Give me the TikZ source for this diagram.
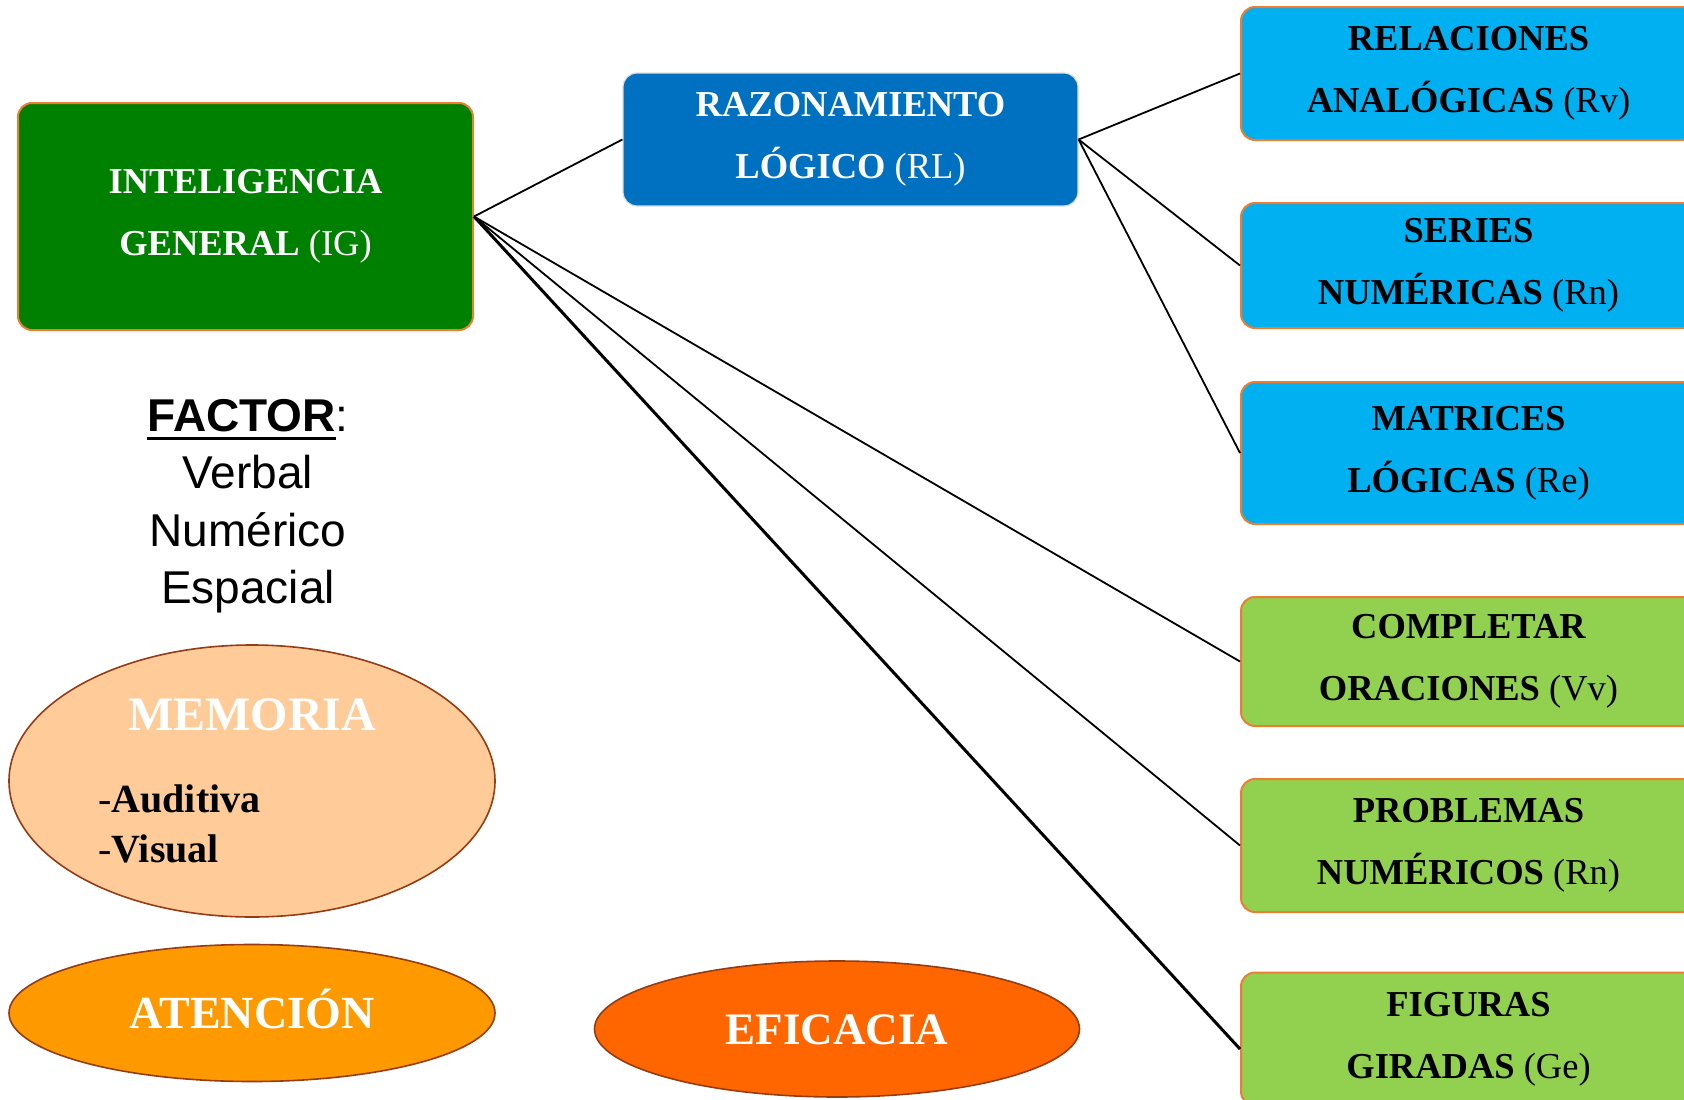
\documentclass[tikz,border=0pt]{standalone}
\usepackage{fontspec}
\setmainfont{Liberation Serif}
\newfontfamily\arialf{Liberation Sans}
\usetikzlibrary{shapes.geometric,calc}
\definecolor{igreen}{HTML}{008000}
\definecolor{rlblue}{HTML}{0070C0}
\definecolor{lblue}{HTML}{00B0F0}
\definecolor{lgreen}{HTML}{92D050}
\definecolor{borange}{HTML}{ED7D31}
\definecolor{ebrown}{HTML}{963C14}
\definecolor{peach}{HTML}{FFCC99}
\definecolor{aorange}{HTML}{FF9900}
\definecolor{eorange}{HTML}{FF6600}
\definecolor{rlborder}{HTML}{DDDDDD}
\newlength\ulw
\newcommand\thickul[1]{\settowidth\ulw{#1}\rlap{\rule[-9pt]{\ulw}{3.5pt}}#1}
\begin{document}
\begin{tikzpicture}[x=1pt,y=-1pt,
  box/.style={rectangle, rounded corners=14pt, minimum width=455pt, inner sep=0pt,
    align=center, line width=2pt, font=\fontsize{36.5}{62}\selectfont\bfseries},
  subbox/.style={box, draw=borange, text=black},
  oval/.style={ellipse, draw=ebrown, line width=1.6pt, inner sep=0pt},
  conn/.style={draw=black, line width=1.8pt}]
\useasboundingbox (0,0) rectangle (1684,1100);
\clip (0,0) rectangle (1684,1100);

\node[box, fill=igreen, draw=borange, text=white, minimum height=227pt] (IG) at (245.5,216.5)
  {INTELIGENCIA\\GENERAL {\mdseries (IG)}};
\node[box, fill=rlblue, draw=rlborder, line width=1.2pt, text=white, minimum height=133pt] (RL) at (850.5,139.5)
  {RAZONAMIENTO\\LÓGICO {\mdseries (RL)}};

\node[subbox, fill=lblue, minimum height=133pt] (RA) at (1468.5,73.5)
  {RELACIONES\\ANALÓGICAS {\mdseries (Rv)}};
\node[subbox, fill=lblue, minimum height=125pt] (SN) at (1468.5,265.5)
  {SERIES\\NUMÉRICAS {\mdseries (Rn)}};
\node[subbox, fill=lblue, minimum height=142pt] (MA) at (1468.5,453)
  {MATRICES\\LÓGICAS {\mdseries (Re)}};
\node[subbox, fill=lgreen, minimum height=129pt] (CO) at (1468.5,661.5)
  {COMPLETAR\\ORACIONES {\mdseries (Vv)}};
\node[subbox, fill=lgreen, minimum height=133pt] (PR) at (1468.5,845.5)
  {PROBLEMAS\\NUMÉRICOS {\mdseries (Rn)}};
\node[subbox, fill=lgreen, minimum height=133pt] (FG) at (1468.5,1039)
  {FIGURAS\\GIRADAS {\mdseries (Ge)}};

\draw[conn] (IG.east) -- (RL.west);
\draw[conn] (RL.east) -- (RA.west);
\draw[conn] (RL.east) -- (SN.west);
\draw[conn] (RL.east) -- (MA.west);
\draw[conn] (IG.east) -- (CO.west);
\draw[conn] (IG.east) -- (PR.west);
\draw[conn, line width=3pt] (IG.east) -- ([yshift=-10pt]FG.west);

\node[font=\arialf\fontsize{46}{57.5}\selectfont, align=center, inner sep=0pt] (FAC) at (248,506)
  {\thickul{\textbf{FACTOR}}:\\Verbal\\Numérico\\Espacial};

\node[oval, fill=peach, minimum width=486pt, minimum height=272pt] (MEM) at (252,781) {};
\node[anchor=base, inner sep=0pt, text=white, font=\fontsize{48}{58}\selectfont\bfseries] (MEMT) at (252,730) {MEMORIA};
\node[anchor=base west, inner sep=0pt, font=\fontsize{40}{50}\selectfont] (AUD) at (98,812) {-\textbf{Auditiva}};
\node[anchor=base west, inner sep=0pt, font=\fontsize{40}{50}\selectfont] (VIS) at (98,862) {-\textbf{Visual}};

\node[oval, fill=aorange, minimum width=486pt, minimum height=137pt, text=white,
  font=\fontsize{46}{56}\selectfont\bfseries, text height=30pt, text depth=0pt] (AT) at (252,1013) {ATENCIÓN};
\node[oval, fill=eorange, minimum width=485pt, minimum height=136pt, text=white,
  font=\fontsize{45}{56}\selectfont\bfseries, text height=30pt, text depth=0pt] (EF) at (837,1029) {EFICACIA};
\end{tikzpicture}
\end{document}
